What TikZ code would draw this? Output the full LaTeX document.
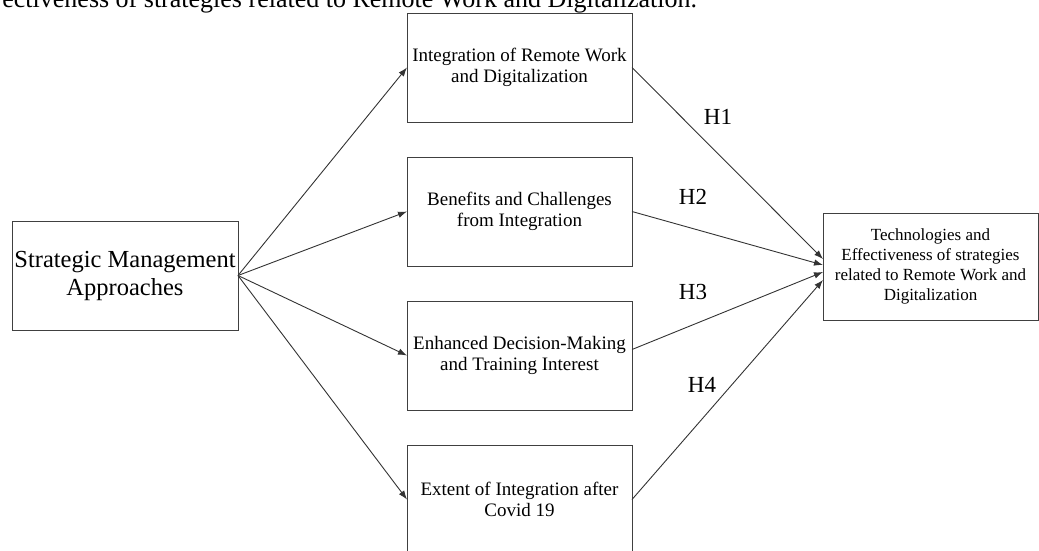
\documentclass[tikz,border=0pt]{standalone}
\usepackage{fontspec}
\setmainfont{Liberation Serif}
\usepackage{tikz}
\usetikzlibrary{arrows.meta,positioning}
\tikzstyle{every node}=[inner sep=0pt, outer sep=0pt]

\begin{document}
\begin{tikzpicture}[
    x=1pt, y=-1pt,
    approach/.style={
        draw=black!75,
        line width=0.9pt,
        minimum width=226pt,
        minimum height=109pt,
        align=center,
        font=\fontsize{24.5}{28}\selectfont},
    factor/.style={
        draw=black!75,
        line width=0.9pt,
        minimum width=225pt,
        minimum height=109pt,
        align=center,
        font=\fontsize{19}{21}\selectfont},
    outcome/.style={
        draw=black!75,
        line width=0.9pt,
        minimum width=215pt,
        minimum height=107pt,
        align=center,
        font=\fontsize{17}{20}\selectfont},
    hypo/.style={font=\fontsize{23}{26}\selectfont},
    link/.style={draw=black!80, line width=0.9pt, -{Latex[length=9pt,width=6.5pt]}},
  ]
  \useasboundingbox (0,0) rectangle (1039,550);
  % Caption (cut at the top)
  \node[anchor=base east, font=\fontsize{26}{30}\selectfont] (caption) at (697,7)
      {ectiveness of strategies related to Remote Work and Digitalization.};
  % Approach
  \node[approach] (approach) at (125,275.5) {Strategic Management\\Approaches};
  % Factors
  \node[factor] (integration) at (519.5,67.5) {Integration of Remote Work\\and Digitalization};
  \node[factor, below=35pt of integration] (benefits) {Benefits and Challenges\\from Integration};
  \node[factor, below=35pt of benefits] (decision) {Enhanced Decision-Making\\and Training Interest};
  \node[factor, below=35pt of decision] (extent) {Extent of Integration after\\Covid 19};
  % Outcome
  \node[outcome] (effect) at (930.5,266.5) {Technologies and\\Effectiveness of strategies\\related to Remote Work and\\Digitalization};
  % Links
  \foreach \f in {integration,benefits,decision,extent}
    \draw[link] (approach.east) -- (\f.west);
  \draw[link] (integration.east) -- ([yshift=7.5pt]effect.west);
  \draw[link] (benefits.east) -- ([yshift=1.5pt]effect.west);
  \draw[link] ([yshift=6pt]decision.east) -- ([yshift=-5.5pt]effect.west);
  \draw[link] (extent.east) -- ([yshift=-13.5pt]effect.west);
  % Hypotheses
  \node[hypo] (h1) at (718,117) {H1};
  \node[hypo] (h2) at (693,197) {H2};
  \node[hypo] (h3) at (693,292) {H3};
  \node[hypo] (h4) at (702,385) {H4};
\end{tikzpicture}
\end{document}
